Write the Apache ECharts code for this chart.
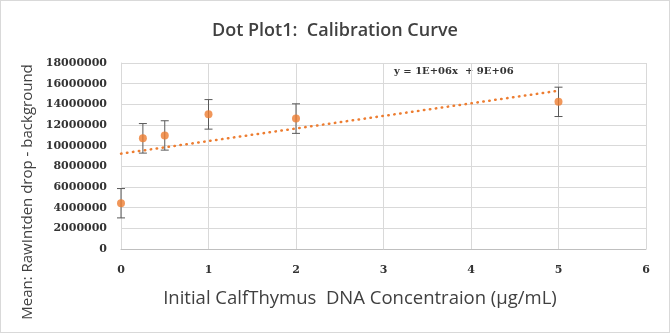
<!DOCTYPE html>
<html>
<head>
<meta charset="utf-8">
<script src="https://cdn.jsdelivr.net/npm/echarts@6/dist/echarts.min.js"></script>
<style>
html,body{margin:0;padding:0;background:#fff;}
#c{width:668px;height:331px;border:1px solid #d9d9d9;}
</style>
</head>
<body>
<div id="c"></div>
<script>
// Data
var concentrations = [0, 0.25, 0.5, 1, 2, 5];
var meanValues = [4430000, 10710000, 10990000, 13030000, 12620000, 14240000];
var errorValues = [1420000, 1430000, 1420000, 1430000, 1430000, 1420000];
var xTicks = [0, 1, 2, 3, 4, 5, 6];
var yTicks = [0, 2000000, 4000000, 6000000, 8000000, 10000000, 12000000, 14000000, 16000000, 18000000];
var titleText = 'Dot Plot1:  Calibration Curve';
var xName = 'Initial CalfThymus  DNA Concentraion (\u00b5g/mL)';
var yName = 'Mean: RawIntden drop - background';
var equationText = 'y = 1E+06x  + 9E+06';

// least-squares trendline from the data
var n = concentrations.length, sx = 0, sy = 0, sxx = 0, sxy = 0;
for (var i = 0; i < n; i++) {
  sx += concentrations[i]; sy += meanValues[i];
  sxx += concentrations[i] * concentrations[i];
  sxy += concentrations[i] * meanValues[i];
}
var slope = (n * sxy - sx * sy) / (n * sxx - sx * sx);
var intercept = (sy - slope * sx) / n;
var xMinData = Math.min.apply(null, concentrations), xMaxData = Math.max.apply(null, concentrations);
var trend = [[xMinData, intercept + slope * xMinData], [xMaxData, intercept + slope * xMaxData]];

var points = concentrations.map(function (x, i) { return [x, meanValues[i]]; });
var errData = concentrations.map(function (x, i) { return [x, meanValues[i] - errorValues[i], meanValues[i] + errorValues[i]]; });

var chart = echarts.init(document.getElementById('c'));
var tickFont = { fontFamily: 'DejaVu Serif', fontWeight: 'bold', fontSize: 11, color: '#333333' };
chart.setOption({
  animation: false,
  title: {
    text: titleText, left: 'center', top: 16,
    textStyle: { fontFamily: 'Open Sans', fontSize: 18, fontWeight: 600, color: '#404040' }
  },
  grid: { left: 120, right: 23, top: 62, bottom: 83 },
  xAxis: {
    type: 'value', min: xTicks[0], max: xTicks[xTicks.length - 1], interval: 1,
    name: xName, nameLocation: 'middle', nameGap: 40,
    nameTextStyle: { fontFamily: 'Open Sans', fontSize: 18.5, color: '#404040', padding: [0, 47, 0, 0] },
    axisLine: { lineStyle: { color: '#bfbfbf' } },
    axisTick: { show: false },
    axisLabel: Object.assign({ margin: 16 }, tickFont),
    splitLine: { lineStyle: { color: '#d9d9d9' } }
  },
  yAxis: {
    type: 'value', min: yTicks[0], max: yTicks[yTicks.length - 1], interval: 2000000,
    name: yName, nameLocation: 'middle', nameGap: 82,
    nameTextStyle: { fontFamily: 'Open Sans', fontSize: 15, color: '#404040', padding: [0, 72, 0, 0] },
    axisLine: { show: true, lineStyle: { color: '#d9d9d9' } },
    axisTick: { show: false },
    axisLabel: Object.assign({ margin: 14, formatter: function (v) { return String(v); } }, tickFont),
    splitLine: { lineStyle: { color: '#d9d9d9' } }
  },
  graphic: [{
    type: 'text', left: 393, top: 65,
    style: { text: equationText, fontFamily: 'DejaVu Serif', fontWeight: 'bold', fontSize: 10, fill: '#333333' }
  }],
  series: [
    {
      type: 'line', data: trend, symbol: 'none', z: 2,
      lineStyle: { color: '#ED7D31', width: 2.5, type: [0.5, 5.5], cap: 'round' }
    },
    {
      type: 'custom', z: 3,
      data: errData,
      renderItem: function (params, api) {
        var x = api.value(0);
        var lo = api.coord([x, api.value(1)]);
        var hi = api.coord([x, api.value(2)]);
        var hw = 4;
        var st = { stroke: '#595959', lineWidth: 1 };
        return {
          type: 'group',
          children: [
            { type: 'line', shape: { x1: hi[0], y1: hi[1], x2: lo[0], y2: lo[1] }, style: st },
            { type: 'line', shape: { x1: hi[0] - hw, y1: hi[1], x2: hi[0] + hw, y2: hi[1] }, style: st },
            { type: 'line', shape: { x1: lo[0] - hw, y1: lo[1], x2: lo[0] + hw, y2: lo[1] }, style: st }
          ]
        };
      }
    },
    {
      type: 'scatter', data: points, symbolSize: 8, z: 4,
      itemStyle: { color: '#ED7D31' }
    }
  ]
});
</script>
</body>
</html>
